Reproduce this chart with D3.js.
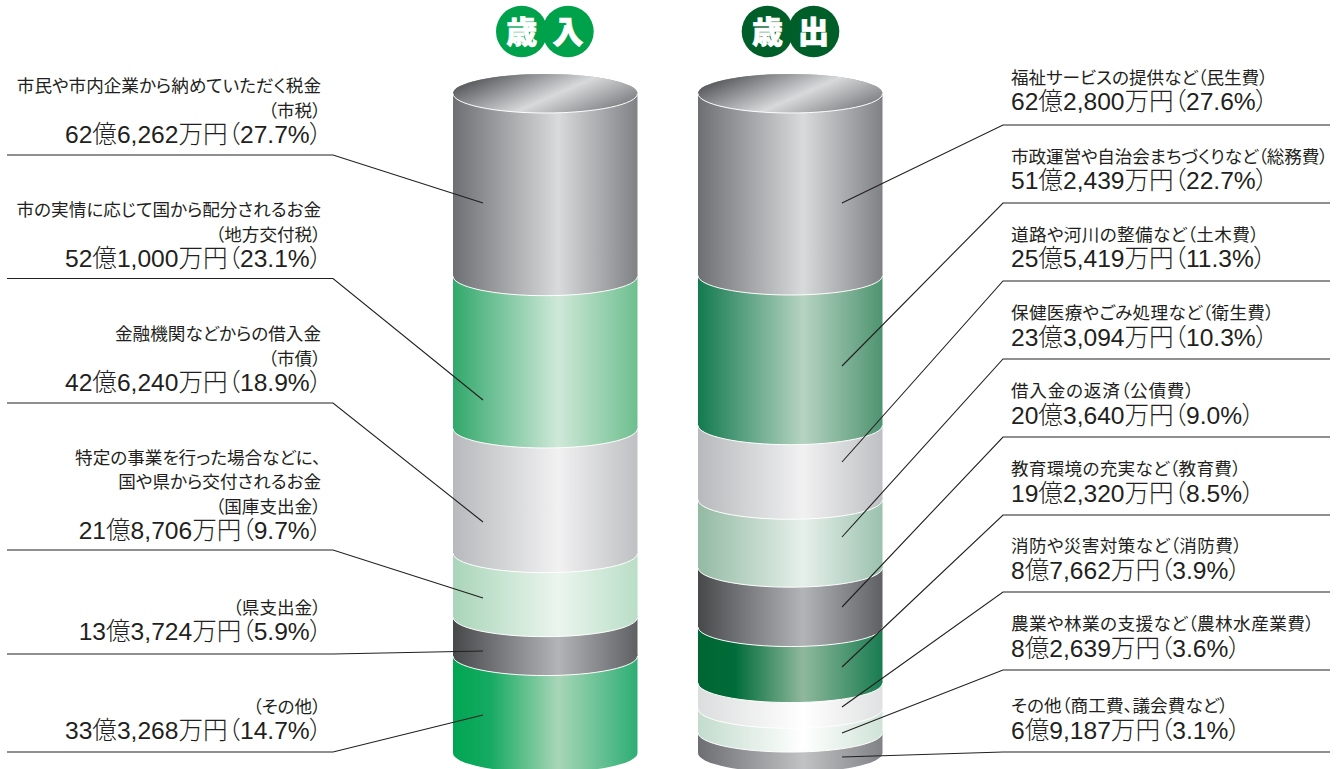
<!DOCTYPE html>
<html lang="ja">
<head>
<meta charset="utf-8">
<script src="https://cdn.jsdelivr.net/npm/d3@7"></script>
<style>
  html, body { margin: 0; padding: 0; background: #fff; overflow: hidden; }
  svg { display: block; }
  text { font-family: "Liberation Sans", "Noto Sans CJK JP", sans-serif; fill: #231f20; font-feature-settings: "palt"; }
</style>
</head>
<body>
<div id="container"></div>
<script>
// the numbers, in 万円 and percent
let revenueNames = ["市税", "地方交付税", "市債", "国庫支出金", "県支出金", "その他"];
let revenueAmounts = [626262, 521000, 426240, 218706, 133724, 333268];
let revenueShares = [27.7, 23.1, 18.9, 9.7, 5.9, 14.7];
let revenueNotes = [
  ["市民や市内企業から納めていただく税金", "（市税）"],
  ["市の実情に応じて国から配分されるお金", "（地方交付税）"],
  ["金融機関などからの借入金", "（市債）"],
  ["特定の事業を行った場合などに、", "国や県から交付されるお金", "（国庫支出金）"],
  ["（県支出金）"],
  ["（その他）"]
];

let spendingNames = ["民生費", "総務費", "土木費", "衛生費", "公債費", "教育費", "消防費", "農林水産業費", "その他"];
let spendingAmounts = [622800, 512439, 255419, 233094, 203640, 192320, 87662, 82639, 69187];
let spendingShares = [27.6, 22.7, 11.3, 10.3, 9.0, 8.5, 3.9, 3.6, 3.1];
let spendingNotes = [
  "福祉サービスの提供など（民生費）",
  "市政運営や自治会まちづくりなど（総務費）",
  "道路や河川の整備など（土木費）",
  "保健医療やごみ処理など（衛生費）",
  "借入金の返済（公債費）",
  "教育環境の充実など（教育費）",
  "消防や災害対策など（消防費）",
  "農業や林業の支援など（農林水産業費）",
  "その他（商工費、議会費など）"
];

// band colours: left edge, highlight, right edge
// (four entries: the second one is where the edge colour still holds, at 20%)
let revenueColors = [
  ["#6e6f72", "#d9dadc", "#808184"],
  ["#31a86b", "#cfe8d8", "#6dbf8f"],
  ["#b7b9bc", "#f1f1f2", "#bfc0c3"],
  ["#a9d5b9", "#ebf5ee", "#b9dec6"],
  ["#47484a", "#b3b4b8", "#5f6063"],
  ["#00a652", "#15aa62", "#a8d6b7", "#2dae74"]
];
let spendingColors = [
  ["#6e6f72", "#d9dadc", "#808184"],
  ["#127a4e", "#b6d3c2", "#4e9470"],
  ["#b7b9bc", "#f1f1f2", "#bfc0c3"],
  ["#93baa3", "#e6f0ea", "#9bc1ae"],
  ["#47484a", "#b3b4b8", "#5f6063"],
  ["#006633", "#006c39", "#8fb89c", "#187c50"],
  ["#dcddde", "#ffffff", "#e0e1e2"],
  ["#c3dccd", "#ffffff", "#cfe3d7"],
  ["#6d6e71", "#c1c2c4", "#808285"]
];

// layout
let w = 1343;
let h = 769;
let topY = 93.5;
let bottomY = 753;
let ry = 19.5;
let cylWidth = 184.5;

let viz = d3.select("#container")
  .append("svg")
    .attr("width", w)
    .attr("height", h)
;
let defs = viz.append("defs");

let yScale = d3.scaleLinear().domain([0, 100]).range([topY, bottomY]);

function formatAmount(v){
  let oku = Math.floor(v / 10000);
  let man = v % 10000;
  return oku + "億" + d3.format(",")(man) + "万円";
}

function bandPath(x, y0, y1){
  let rx = cylWidth / 2;
  return "M" + x + "," + y0
    + "L" + x + "," + y1
    + "A" + rx + "," + ry + " 0 0 0 " + (x + cylWidth) + "," + y1
    + "L" + (x + cylWidth) + "," + y0
    + "A" + rx + "," + ry + " 0 0 0 " + x + "," + y0
    + "Z";
}
function frontArc(x, y){
  let rx = cylWidth / 2;
  return "M" + x + "," + y + "A" + rx + "," + ry + " 0 0 0 " + (x + cylWidth) + "," + y;
}

function drawCylinder(id, x, shares, colors){
  let bands = [];
  let total = 0;
  shares.forEach(function(s, i){
    bands.push({start: total, end: total + s, colors: colors[i], index: i});
    total += s;
  });
  // last one is at the end of the scale, rounding should not move it
  bands[bands.length - 1].end = 100;

  bands.forEach(function(b){
    let g = defs.append("linearGradient")
      .attr("id", id + b.index)
      .attr("x1", 0).attr("x2", 1).attr("y1", 0).attr("y2", 0);
    let c = b.colors;
    g.append("stop").attr("offset", 0).attr("stop-color", c[0]);
    if(c.length == 4){
      g.append("stop").attr("offset", 0.2).attr("stop-color", c[1]);
    }
    g.append("stop").attr("offset", 0.57).attr("stop-color", c[c.length - 2]);
    g.append("stop").attr("offset", 1).attr("stop-color", c[c.length - 1]);
  });

  let group = viz.append("g").classed(id, true);

  // painted from the bottom up so the curve of each band sits on the next one
  let reversed = bands.slice().reverse();
  group.selectAll(".band").data(reversed).enter()
    .append("path")
      .classed("band", true)
      .attr("d", function(d){ return bandPath(x, yScale(d.start), yScale(d.end)); })
      .attr("fill", function(d){ return "url(#" + id + d.index + ")"; })
  ;
  group.selectAll(".edge").data(reversed.filter(function(d){ return d.end < 100; })).enter()
    .append("path")
      .classed("edge", true)
      .attr("d", function(d){ return frontArc(x, yScale(d.end)); })
      .attr("fill", "none")
      .attr("stroke", "#fff")
      .attr("stroke-width", 1)
  ;

  // top cap, gradient runs across a diagonal
  let cx = x + cylWidth / 2;
  let cap = defs.append("linearGradient")
    .attr("id", id + "cap")
    .attr("gradientUnits", "userSpaceOnUse")
    .attr("x1", cx + 13 - 18).attr("y1", topY - 41)
    .attr("x2", cx + 13 + 18).attr("y2", topY + 41);
  cap.append("stop").attr("offset", 0).attr("stop-color", "#5f6063");
  cap.append("stop").attr("offset", 0.5).attr("stop-color", "#d8d9db");
  cap.append("stop").attr("offset", 1).attr("stop-color", "#6e6f72");

  group.append("ellipse")
    .attr("cx", cx).attr("cy", yScale(0))
    .attr("rx", cylWidth / 2).attr("ry", ry)
    .attr("fill", "url(#" + id + "cap)");
  group.append("path")
    .attr("d", frontArc(x, yScale(0)))
    .attr("fill", "none")
    .attr("stroke", "#fff")
    .attr("stroke-width", 1);
}

drawCylinder("revenue", 453, revenueShares, revenueColors);
drawCylinder("spending", 698, spendingShares, spendingColors);

// leader lines: rule under the label, then a slanted bit into the band
let lineMaker = d3.line();

let revenueRuleY = [155, 278.5, 403, 550, 654, 752];
let revenueTipY = [203, 400, 522, 598, 651, 715];
let spendingRuleY = [125, 203, 281, 359, 437, 515, 592, 670, 752];
let spendingTipY = [203, 366, 462, 537, 607, 667, 707, 733, 757];
// how far the amount sits above its rule, and the width of each note line
let revenueLift = [11.7, 11.5, 12, 10.7, 14, 13];
let spendingLift = [15, 14.5, 14.5, 13, 13, 13.5, 13, 13, 12.7];
let spendingNoteWidths = [257, 317, 248, 263, 183, 230, 231, 303, 217];

revenueRuleY.forEach(function(y, i){
  viz.append("path")
    .attr("d", lineMaker([[7, y], [333, y], [483, revenueTipY[i]]]))
    .attr("fill", "none").attr("stroke", "#231f20").attr("stroke-width", 1.1);
});
spendingRuleY.forEach(function(y, i){
  viz.append("path")
    .attr("d", lineMaker([[1330, y], [1003, y], [842, spendingTipY[i]]]))
    .attr("fill", "none").attr("stroke", "#231f20").attr("stroke-width", 1.1);
});

// left labels, right aligned, stacked upward from the rule
revenueNotes.forEach(function(lines, i){
  let y = revenueRuleY[i] - revenueLift[i];
  viz.append("text")
    .attr("x", 322).attr("y", y)
    .attr("text-anchor", "end")
    .attr("font-size", 24.6)
    .attr("font-weight", 300)
    .text(formatAmount(revenueAmounts[i]) + "（" + revenueShares[i].toFixed(1) + "%）");
  lines.forEach(function(line, j){
    viz.append("text")
      .attr("x", 321).attr("y", y - 26.5 - (lines.length - 1 - j) * 24.5)
      .attr("text-anchor", "end")
      .attr("font-size", 17.6)
      .text(line);
  });
});

// right labels
spendingNotes.forEach(function(note, i){
  let y = spendingRuleY[i] - spendingLift[i];
  viz.append("text")
    .attr("x", 1011).attr("y", y)
    .attr("font-size", 24.6)
    .attr("font-weight", 300)
    .text(formatAmount(spendingAmounts[i]) + "（" + spendingShares[i].toFixed(1) + "%）");
  viz.append("text")
    .attr("x", 1011).attr("y", y - (i < 3 ? 26 : 27))
    .attr("font-size", 17.6)
    .attr("textLength", spendingNoteWidths[i])
    .attr("lengthAdjust", "spacing")
    .text(note);
});

// headings
let headings = [
  {chars: ["歳", "入"], xs: [521.7, 568], color: "#00a14b"},
  {chars: ["歳", "出"], xs: [767.4, 813.6], color: "#005e28"}
];
headings.forEach(function(head){
  head.chars.forEach(function(c, i){
    viz.append("circle")
      .attr("cx", head.xs[i]).attr("cy", 31.5).attr("r", 25.7)
      .attr("fill", head.color);
  });
  head.chars.forEach(function(c, i){
    viz.append("text")
      .attr("x", head.xs[i]).attr("y", 43)
      .attr("text-anchor", "middle")
      .attr("font-size", 31)
      .attr("font-weight", 900)
      .style("font-family", "'Noto Sans CJK JP'")
      .style("fill", "#fff")
      .style("stroke", "#fff")
      .style("stroke-width", 0.7)
      .text(c);
  });
});
</script>
</body>
</html>
